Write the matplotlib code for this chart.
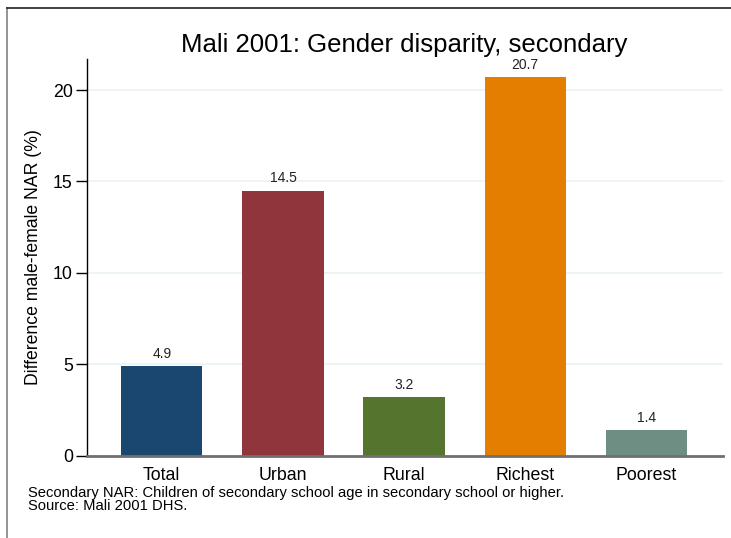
import numpy as np
import matplotlib.pyplot as plt
from matplotlib.lines import Line2D

####
# Data
#===
categories = ['Total', 'Urban', 'Rural', 'Richest', 'Poorest']
values = [4.9, 14.5, 3.2, 20.7, 1.4]
bar_colors = ['#1a476f', '#90353b', '#55752f', '#e37e00', '#6e8e84']
y_ticks = [0, 5, 10, 15, 20]
notes = ['Secondary NAR: Children of secondary school age in secondary school or higher.',
         'Source: Mali 2001 DHS.']

plt.rcParams['font.family'] = ['Liberation Sans', 'DejaVu Sans']

####
# Figure
#===
fig = plt.figure(figsize=(7.31, 5.38), dpi=100)
ax = fig.add_axes([0.1186, 0.1530, 0.8700, 0.7368])

x = np.arange(len(categories))
bars = ax.bar(x, values, width=0.67, color=bar_colors, zorder=3)
for xi, v in zip(x, values):
    ax.text(xi, v + 0.3, '{:.1f}'.format(v), ha='center', va='bottom', fontsize=10, color='#222222')

ax.set_xlim(-0.62, 4.63)
ax.set_ylim(0, 21.68)
ax.set_xticks(x)
ax.set_xticklabels(categories, fontsize=12.8)
ax.set_yticks(y_ticks)
ax.set_yticklabels([str(t) for t in y_ticks], fontsize=12.8)
ax.tick_params(axis='x', length=0, pad=8)
ax.tick_params(axis='y', length=8, width=1, direction='out', pad=2)
ax.grid(axis='y', color='#eaf2f3', linewidth=1.2, zorder=0)
ax.set_axisbelow(True)

for side in ['top', 'right']:
    ax.spines[side].set_visible(False)
ax.spines['left'].set_color('black')
ax.spines['left'].set_linewidth(1)
ax.spines['bottom'].set_color('#707070')
ax.spines['bottom'].set_linewidth(2)
ax.spines['bottom'].set_zorder(4)

ax.set_ylabel('Difference male-female NAR (%)', fontsize=12.7, labelpad=8)
ax.set_title('Mali 2001: Gender disparity, secondary', fontsize=18.5, pad=5)

fig.text(28 / 731, 1 - 493 / 538, notes[0], fontsize=10.6, va='center', ha='left')
fig.text(28 / 731, 1 - 506 / 538, notes[1], fontsize=10.6, va='center', ha='left')

# outer frame (left and top only visible)
fig.add_artist(Line2D([6.5 / 731, 6.5 / 731], [0, 1 - 8 / 538], color='#808080', linewidth=1.2, transform=fig.transFigure))
fig.add_artist(Line2D([6.5 / 731, 1], [1 - 8 / 538, 1 - 8 / 538], color='#202020', linewidth=1.2, transform=fig.transFigure))

plt.savefig('out.png', dpi=100)
